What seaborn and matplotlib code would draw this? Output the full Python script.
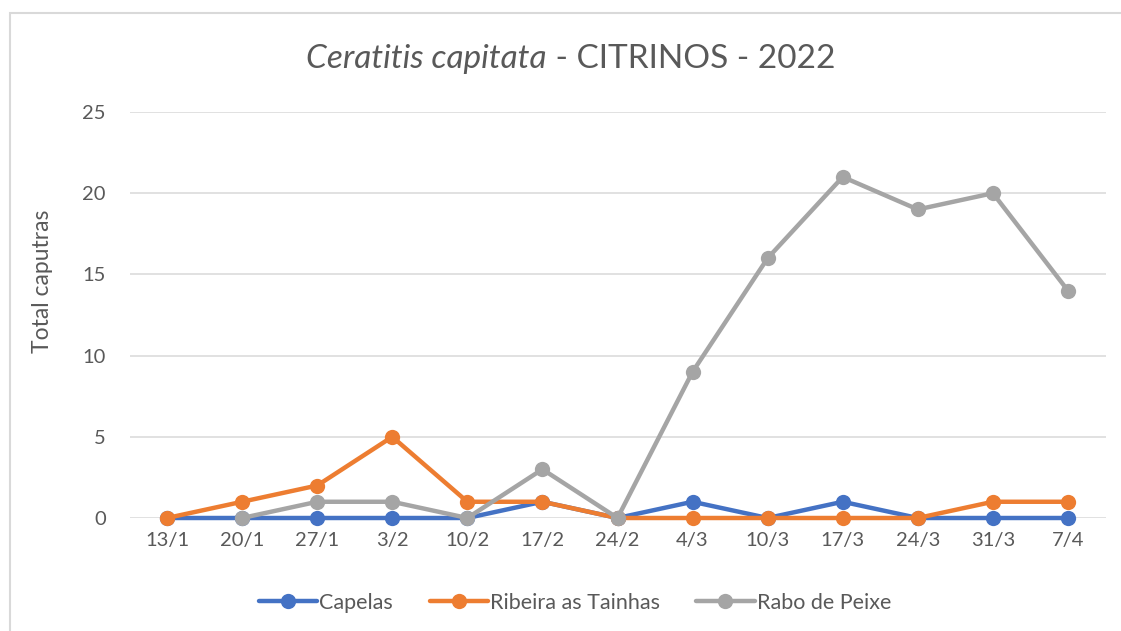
import seaborn as sns
import matplotlib.pyplot as plt
import matplotlib.patches as mpatches
import numpy as np
import pandas as pd

dates = ["13/1", "20/1", "27/1", "3/2", "10/2", "17/2", "24/2",
         "4/3", "10/3", "17/3", "24/3", "31/3", "7/4"]
capelas = [0, 0, 0, 0, 0, 1, 0, 1, 0, 1, 0, 0, 0]
ribeira = [0, 1, 2, 5, 1, 1, 0, 0, 0, 0, 0, 1, 1]
rabo = [np.nan, 0, 1, 1, 0, 3, 0, 9, 16, 21, 19, 20, 14]

series_names = ["Capelas", "Ribeira as Tainhas", "Rabo de Peixe"]
colors = ["#4472C4", "#ED7D31", "#A5A5A5"]

FONT = "Lato"
TXT = "#595959"

if __name__ == "__main__":
    sns.set_style("white")
    plt.rcParams["font.family"] = [FONT, "DejaVu Sans"]

    fig = plt.figure(figsize=(11.21, 6.31), dpi=100)
    ax = fig.add_axes([129.5 / 1121, 1 - 518 / 631, 976 / 1121, 406 / 631])

    x = np.arange(len(dates))
    for name, vals, col in zip(series_names, [capelas, ribeira, rabo], colors):
        df = pd.DataFrame({"x": x, "y": vals}).dropna()
        sns.lineplot(data=df, x="x", y="y", ax=ax, color=col, linewidth=3.2,
                     marker="o", markersize=11, markeredgewidth=0,
                     label=name, clip_on=False, zorder=3)

    ax.set_xlim(-0.5, len(dates) - 0.5)
    ax.set_ylim(0, 25)
    ax.set_yticks([0, 5, 10, 15, 20, 25])
    ax.set_xticks(x)
    ax.set_xticklabels(dates)
    ax.yaxis.grid(True, color="#D9D9D9", linewidth=1.1, zorder=0)
    ax.xaxis.grid(False)
    for s in ax.spines.values():
        s.set_visible(False)
    ax.tick_params(axis="both", length=0, labelsize=14.5, labelcolor=TXT)
    ax.tick_params(axis="y", pad=17)
    ax.tick_params(axis="x", pad=10)
    ax.set_xlabel("")
    ax.set_ylabel("Total caputras", fontsize=16.5, color=TXT)
    ax.yaxis.set_label_coords((53 - 129.5) / 976, (518 - 281) / 406)

    ax.get_legend().remove()
    handles, labels = ax.get_legend_handles_labels()
    fig.legend(handles, labels, loc="center", bbox_to_anchor=(575 / 1121, 1 - 603 / 631),
               ncol=3, frameon=False, fontsize=15.5, labelcolor=TXT,
               handlelength=2.7, handletextpad=0.1, columnspacing=1.7)

    # title: italic species + regular rest
    t1 = fig.text(0, 1 - 68 / 631, "Ceratitis capitata", fontsize=24, color=TXT,
                  style="italic", ha="left", va="baseline")
    t2 = fig.text(0, 1 - 68 / 631, " - CITRINOS - 2022", fontsize=24, color=TXT,
                  ha="left", va="baseline")
    fig.canvas.draw()
    r = fig.canvas.get_renderer()
    w1 = t1.get_window_extent(r).width
    w2 = t2.get_window_extent(r).width
    left = 571 - (w1 + w2) / 2
    t1.set_x(left / 1121)
    t2.set_x((left + w1) / 1121)

    # chart border
    fig.patches.append(mpatches.Rectangle((10 / 1121, -0.05), 1.1, 1 - 13 / 631 + 0.05,
                                          transform=fig.transFigure, fill=False,
                                          edgecolor="#D9D9D9", linewidth=1.5))

    fig.savefig("out.png", dpi=100)
